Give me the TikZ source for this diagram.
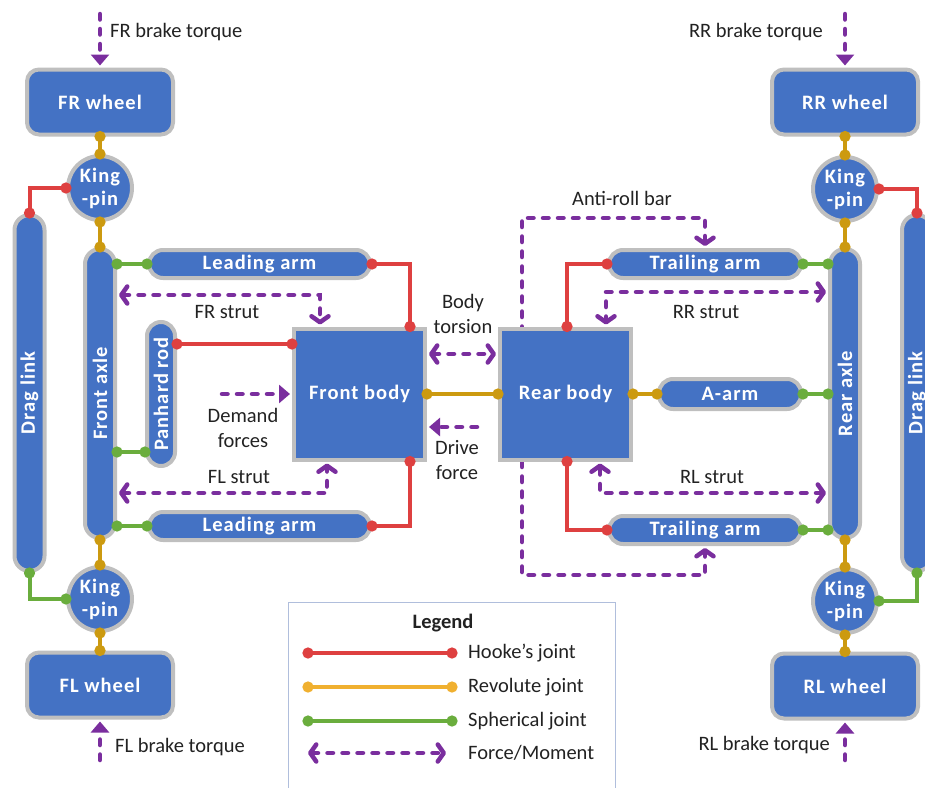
\documentclass[tikz,border=0pt]{standalone}
\usepackage{fontspec}
\setmainfont{Carlito}
\newfontfamily\bxfont{Carlito}[LetterSpace=5]
\usepackage{graphicx}
\usetikzlibrary{arrows.meta,calc}
\pgfdeclarelayer{bg}
\pgfsetlayers{bg,main}
\definecolor{bblue}{HTML}{4472C4}
\definecolor{bgray}{HTML}{BFBFBF}
\definecolor{jred}{HTML}{DE4040}
\definecolor{jgold}{HTML}{CC9A10}
\definecolor{lgold}{HTML}{F0B030}
\definecolor{jgreen}{HTML}{6AAD3D}
\definecolor{fpurple}{HTML}{7A2E9E}
\definecolor{legbd}{HTML}{B0BEDC}
\definecolor{txt}{HTML}{222222}
\tikzset{
  part/.style={draw=bgray, line width=4pt, fill=bblue, text=white, inner sep=0pt, align=center,
    font=\bxfont\bfseries\fontsize{20.5}{23}\selectfont},
  wheel/.style={part, rounded corners=12pt, minimum width=146pt, minimum height=65pt},
  kp/.style={part, circle, minimum size=64pt},
  vbar/.style={part, rounded corners=15pt, minimum width=30pt},
  hbar/.style={part, rounded corners=14pt, minimum height=28pt},
  bodybox/.style={part, minimum width=131pt, minimum height=131pt},
  lbl/.style={font=\fontsize{20.5}{25}\selectfont, text=txt, inner sep=0pt, align=center},
  joint/.style={line width=4pt, {Circle[length=11pt,width=11pt]}-{Circle[length=11pt,width=11pt]},
    shorten <=-5.5pt, shorten >=-5.5pt},
  hooke/.style={joint, draw=jred},
  rev/.style={joint, draw=jgold},
  lrev/.style={joint, draw=lgold},
  sph/.style={joint, draw=jgreen},
  force/.style={draw=fpurple, line width=4.5pt, line cap=round, dash pattern=on 5.5pt off 9.5pt,
    {Straight Barb[length=6pt,width=17pt,round]}-{Straight Barb[length=6pt,width=17pt,round]},
    shorten <=2pt, shorten >=2pt},
  push/.style={draw=fpurple, line width=4.5pt, line cap=round, dash pattern=on 5.5pt off 9.5pt,
    -{Triangle[length=11pt,width=18pt]}, shorten >=2pt}
}
\begin{document}
\begin{tikzpicture}[x=1pt,y=-1pt]
\useasboundingbox (0,0) rectangle (925,787);

% ---------- parts ----------
\node[wheel] (frw) at (100,102) {FR wheel};
\node[kp] (frk) at (100,188) {King\\-pin};
\node[vbar, minimum height=356pt] (dll) at (29.5,393) {\rotatebox{90}{Drag link}};
\node[vbar, minimum height=289pt] (fa) at (100,393.5) {\rotatebox{90}{Front axle}};
\node[hbar, minimum width=221pt] (la1) at (259.5,264) {Leading arm};
\node[vbar, rounded corners=14pt, minimum width=28pt, minimum height=144pt] (pr) at (161,394) {\rotatebox{90}{Panhard rod}};
\node[bodybox] (fb) at (359.5,394) {Front body};
\node[hbar, minimum width=221pt] (la2) at (259.5,526) {Leading arm};
\node[kp] (flk) at (100,599) {King\\-pin};
\node[wheel] (flw) at (100,685) {FL wheel};

\node[bodybox] (rb) at (565.5,394) {Rear body};
\node[hbar, minimum width=192pt] (ta1) at (705,264) {Trailing arm};
\node[hbar, minimum width=142pt, minimum height=30pt] (aa) at (730,394) {A-arm};
\node[hbar, minimum width=192pt] (ta2) at (705,530) {Trailing arm};
\node[vbar, minimum height=289pt] (ra) at (845,393.5) {\rotatebox{90}{Rear axle}};
\node[vbar, minimum height=356pt] (dlr) at (917,393) {\rotatebox{90}{Drag link}};
\node[kp] (rrk) at (845,189) {King\\-pin};
\node[kp] (rlk) at (845,601) {King\\-pin};
\node[wheel] (rrw) at (845,102) {RR wheel};
\node[wheel] (rlw) at (845,686) {RL wheel};

% ---------- anti-roll bar (behind rear body) ----------
\coordinate (arb1) at (522,218);
\coordinate (arb2) at (522,575);
\begin{pgfonlayer}{bg}
\draw[force] (ta1.north) |- (arb1) -- (arb2) -| (ta2.south);
\end{pgfonlayer}

% ---------- joints ----------
\draw[rev] (frw.south) -- (frk.north);
\draw[rev] (frk.south) -- (fa.north);
\draw[hooke] (frk.west) -| (dll.north);
\draw[sph] (dll.south) |- (flk.west);
\draw[rev] (fa.south) -- (flk.north);
\draw[rev] (flk.south) -- (flw.north);
\draw[sph] (fa.east |- la1.west) -- (la1.west);
\draw[sph] (fa.east |- la2.west) -- (la2.west);
\draw[sph] (fa.east |- 0,452) -- (pr.west |- 0,452);
\draw[hooke] (pr.east |- 0,344) -- (fb.west |- 0,344);
\draw[hooke] (la1.east) -| (fb.north -| 410,0);
\draw[hooke] (la2.east) -| (fb.south -| 410,0);
\draw[rev] (fb.east) -- (rb.west);
\draw[hooke] (rb.north -| 567,0) |- (ta1.west);
\draw[hooke] (rb.south -| 567,0) |- (ta2.west);
\draw[rev] (rb.east) -- (aa.west);
\draw[sph] (ta1.east) -- (ra.west |- ta1.east);
\draw[sph] (aa.east) -- (ra.west |- aa.east);
\draw[sph] (ta2.east) -- (ra.west |- ta2.east);
\draw[rev] (rrw.south) -- (rrk.north);
\draw[rev] (rrk.south) -- (ra.north);
\draw[rev] (ra.south) -- (rlk.north);
\draw[rev] (rlk.south) -- (rlw.north);
\draw[hooke] (rrk.east) -| (dlr.north);
\draw[sph] (dlr.south) |- (rlk.east);

% ---------- forces ----------
\coordinate (frb0) at (100,14);
\coordinate (rrb0) at (845,14);
\coordinate (flb0) at (100,760);
\coordinate (rlb0) at (845,760);
\draw[push] (frb0) -- (frw.north);
\draw[push] (rrb0) -- (rrw.north);
\draw[push] (flb0) -- (flw.south);
\draw[push] (rlb0) -- (rlw.south);
\draw[force] (fa.east |- 0,295) -| (fb.north -| 320,0);
\draw[force] (fa.east |- 0,493) -| (fb.south -| 327,0);
\coordinate (dem) at (222,394);
\draw[push] (dem) -- (fb.west);
\draw[force] (fb.east |- 0,354) -- (rb.west |- 0,354);
\coordinate (drv) at (477,427);
\draw[push] (drv) -- (fb.east |- drv);
\draw[force] (ra.west |- 0,292) -| (rb.north -| 606,0);
\draw[force] (ra.west |- 0,493) -| (rb.south -| 600,0);

% ---------- labels ----------
\node[lbl, anchor=west] (tfrb) at (110,32) {FR brake torque};
\node[lbl, anchor=east] (trrb) at (823,32) {RR brake torque};
\node[lbl, anchor=west] (tflb) at (115,747) {FL brake torque};
\node[lbl, anchor=east] (trlb) at (830,745) {RL brake torque};
\node[lbl] (tarb) at (622,198) {Anti-roll bar};
\node[lbl] (tfrs) at (227,312) {FR strut};
\node[lbl] (tfls) at (239,477) {FL strut};
\node[lbl] (tdem) at (243,428) {Demand\\forces};
\node[lbl] (ttor) at (463,314) {Body\\torsion};
\node[lbl] (tdrv) at (457,460) {Drive\\force};
\node[lbl] (trrs) at (706,312) {RR strut};
\node[lbl] (trls) at (712,477) {RL strut};

% ---------- legend ----------
\node[draw=legbd, line width=1.2pt, anchor=north west, minimum width=327pt, minimum height=200pt, inner sep=0pt] (leg) at (288,602) {};
\node[lbl, font=\bfseries\fontsize{20.5}{25}\selectfont] (legt) at (443,623) {Legend};
\coordinate (l1a) at (308,653); \coordinate (l1b) at (452,653);
\coordinate (l2a) at (308,687); \coordinate (l2b) at (452,687);
\coordinate (l3a) at (308,721); \coordinate (l3b) at (452,721);
\coordinate (l4a) at (306,753); \coordinate (l4b) at (448,753);
\draw[hooke] (l1a) -- (l1b);
\draw[lrev] (l2a) -- (l2b);
\draw[sph] (l3a) -- (l3b);
\draw[force] (l4a) -- (l4b);
\node[lbl, anchor=west] (lt1) at (468,653) {Hooke’s joint};
\node[lbl, anchor=west] (lt2) at (468,687) {Revolute joint};
\node[lbl, anchor=west] (lt3) at (468,721) {Spherical joint};
\node[lbl, anchor=west] (lt4) at (468,753) {Force/Moment};
\end{tikzpicture}
\end{document}
